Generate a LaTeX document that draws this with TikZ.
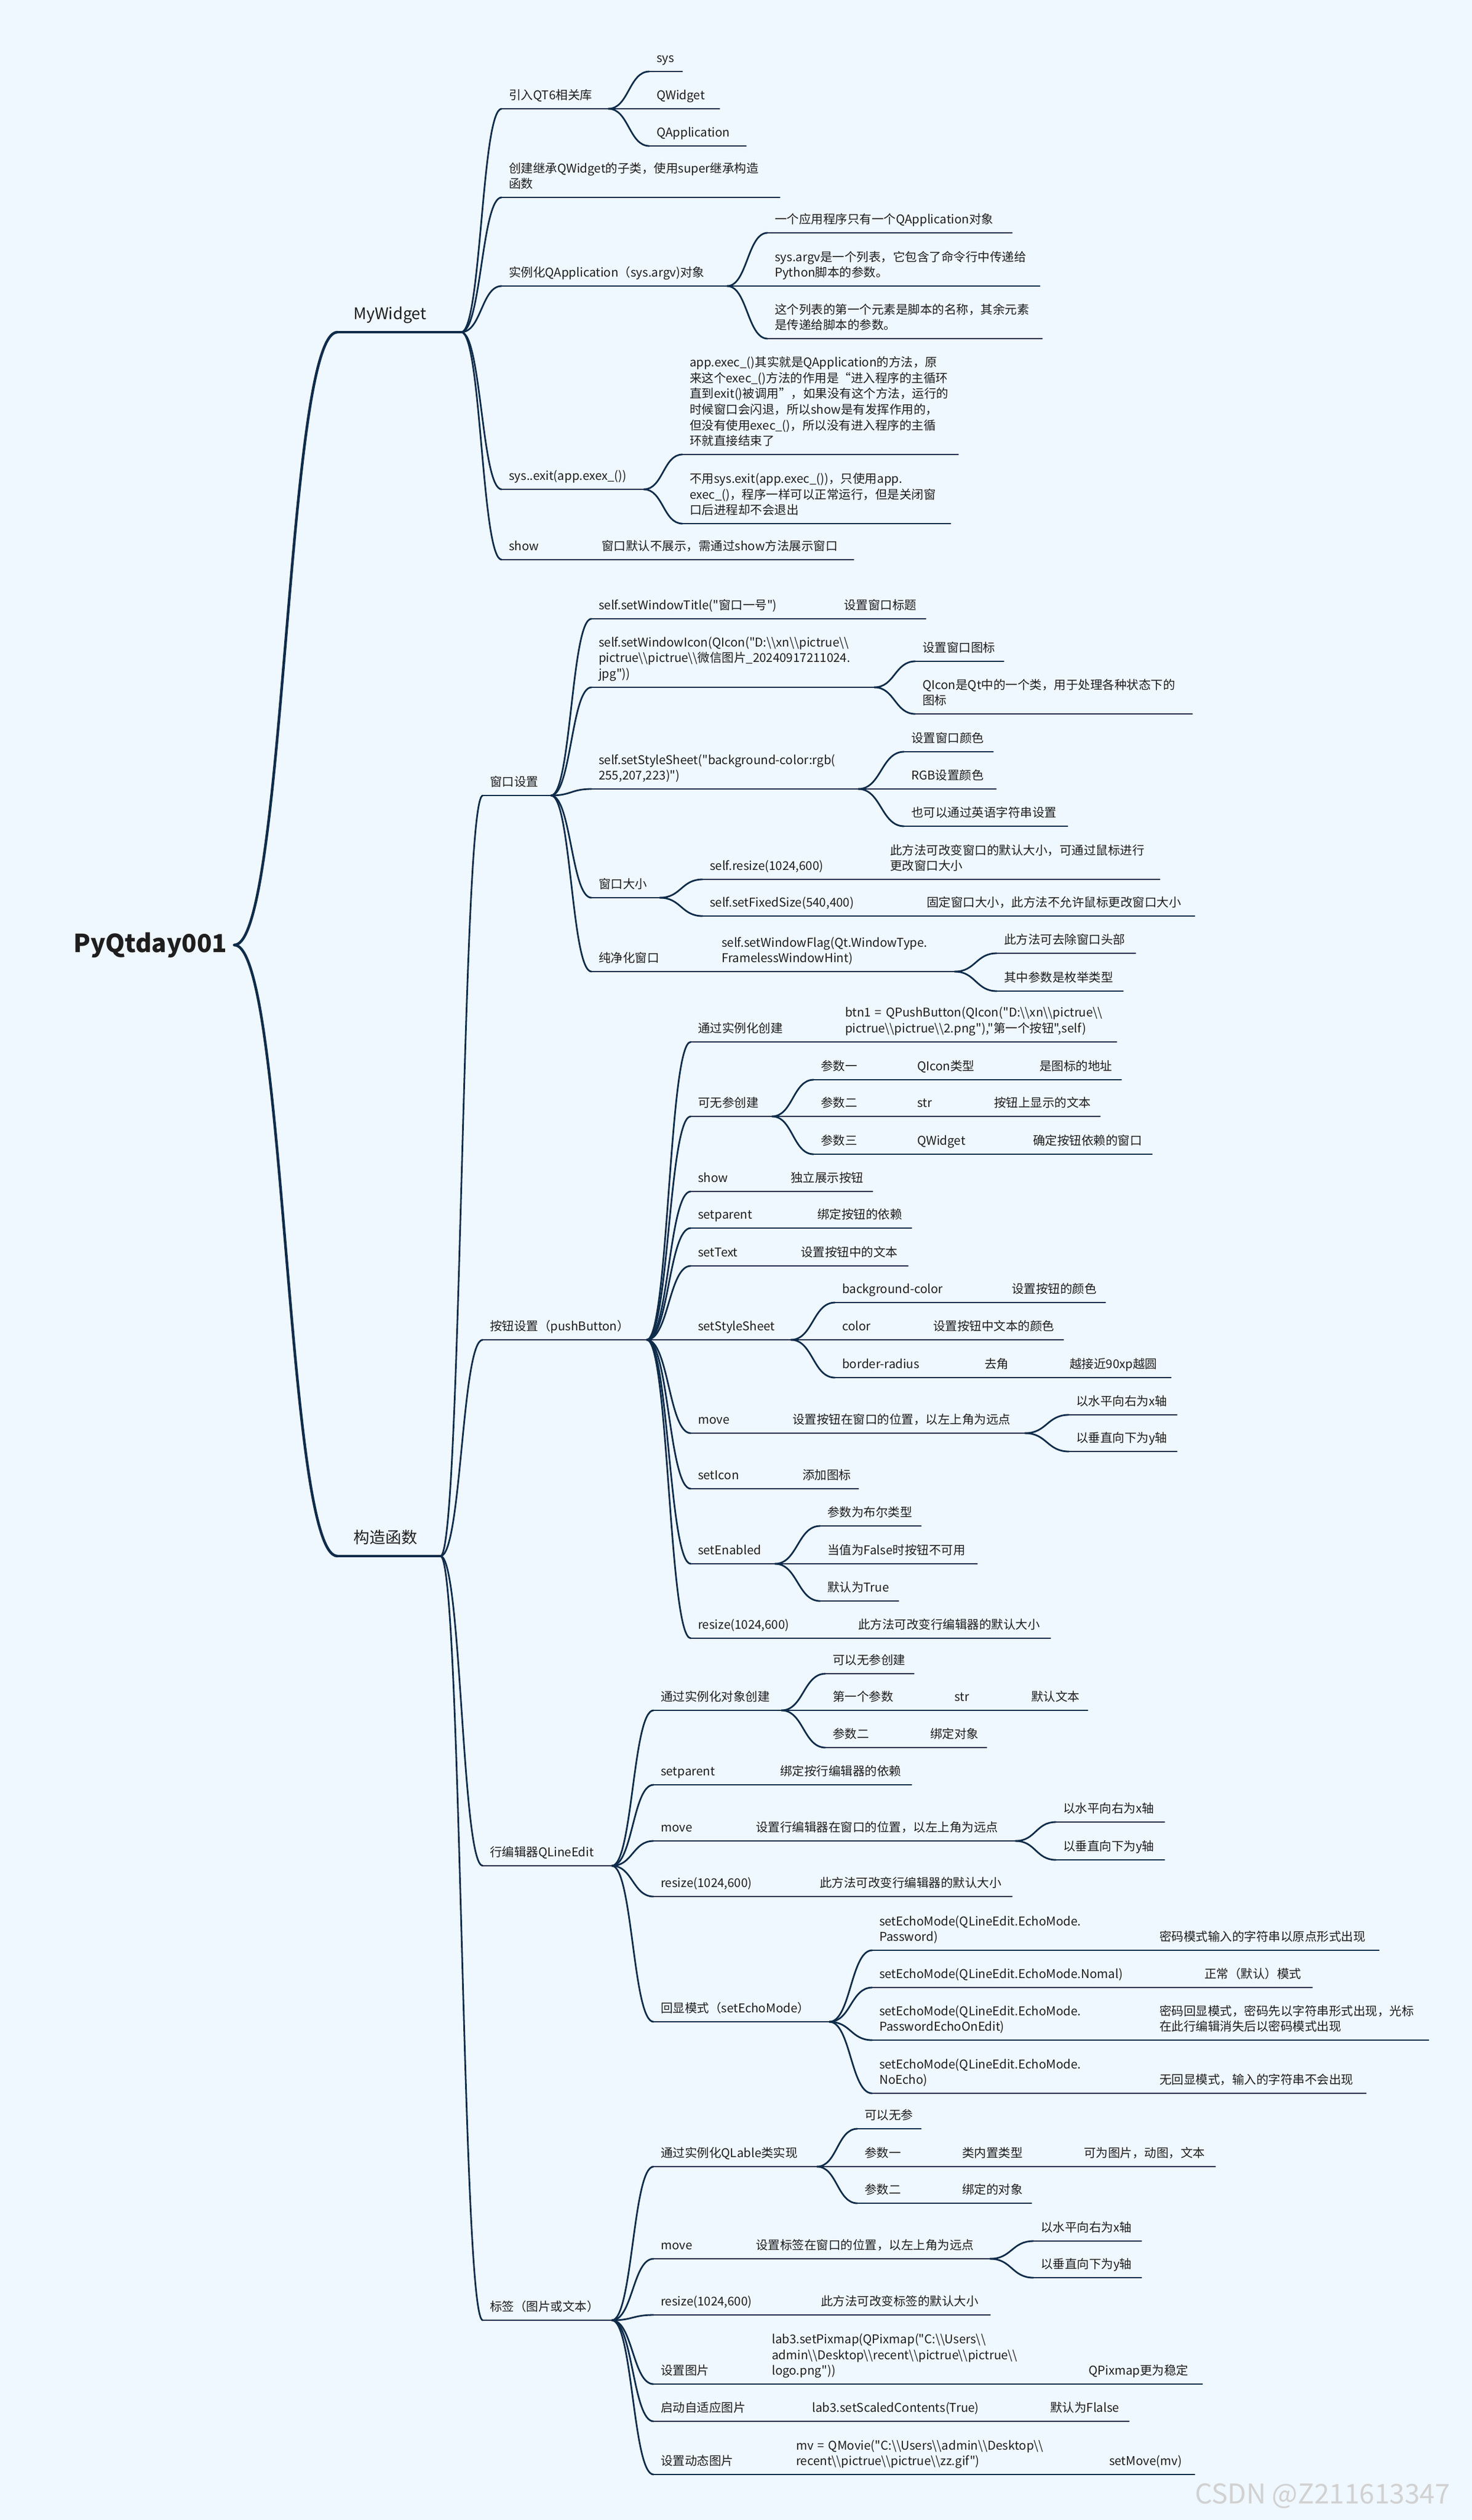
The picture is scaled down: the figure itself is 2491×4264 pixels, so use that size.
\documentclass[tikz,border=0pt]{standalone}
\usepackage{fontspec}
\setmainfont{Noto Sans CJK SC}
\newfontfamily\cjk{Noto Sans CJK SC}
\usetikzlibrary{calc}
\definecolor{bg}{RGB}{239,247,255}
\definecolor{lc}{RGB}{14,44,74}
\definecolor{tc}{RGB}{30,30,30}
\newcommand\bsl{\textbackslash}
\tikzset{
 ln/.style={draw=lc,line width=2.8pt,line cap=round},
 lnb/.style={draw=lc,line width=4.5pt,line cap=round},
 nd/.style={anchor=south west,inner xsep=12pt,inner ysep=10pt,align=left,text=tc,font=\cjk\fontsize{20.5}{26.7}\selectfont},
 big/.style={inner xsep=27pt,inner ysep=15pt,font=\cjk\fontsize{27}{32}\selectfont},
 rootst/.style={anchor=west,inner xsep=12pt,inner ysep=6pt,text=tc,font=\cjk\fontsize{42}{48}\selectfont\bfseries},
 wmst/.style={anchor=west,inner sep=0pt,text=black!18,font=\cjk\fontsize{46}{50}\selectfont},
}
\newcommand\N[5]{\pgfmathsetmacro\tw{#3-#2-24}\node[nd,text width=\tw pt] (#1) at (#2,#4) {#5\rule[-5pt]{0pt}{5pt}};\draw[ln] (#1.south west) -- (#1.south east);}
\newcommand\NL[5]{\pgfmathsetmacro\tw{#3-#2-54}\node[nd,big,text width=\tw pt] (#1) at (#2,#4) {#5\rule[-6pt]{0pt}{6pt}};\draw[lnb] (#1.south west) -- (#1.south east);}
\newcommand\C[2]{\draw[ln] let \p1=(#1.south east),\p2=(#2.south west) in (\p1) .. controls ({(\x1+\x2)/2},\y1) and ({(\x1+\x2)/2},\y2) .. (\p2);}
\newcommand\CC[2]{\foreach \q in {#2}{\C{#1}{\q}}}
\begin{document}
\begin{tikzpicture}[x=1pt,y=-1pt]
\fill[bg] (0,0) rectangle (2491,4264);
\useasboundingbox (0,0) rectangle (2491,4264);
% root and level 1
\node[rootst] (root) at (112,1599) {PyQtday001};
\NL{mw}{571}{780}{562}{MyWidget}
\NL{gz}{571}{745}{2633}{构造函数}
\draw[lnb] let \p1=(root.east),\p2=(mw.south west) in (\p1) .. controls ({(\x1+\x2)/2},\y1) and ({(\x1+\x2)/2},\y2) .. (\p2);
\draw[lnb] let \p1=(root.east),\p2=(gz.south west) in (\p1) .. controls ({(\x1+\x2)/2},\y1) and ({(\x1+\x2)/2},\y2) .. (\p2);
% MyWidget
\N{a1}{849}{1029}{184}{引入QT6相关库}
\N{a1a}{1099}{1154}{121}{sys}
\N{a1b}{1099}{1217}{184}{QWidget}
\N{a1c}{1099}{1262}{247}{QApplication}
\N{a2}{849}{1319}{334}{创建继承QWidget的子类，使用super继承构造\\函数}
\N{a3}{849}{1230}{484}{实例化QApplication（sys.argv)对象}
\N{a3a}{1299}{1712}{394}{一个应用程序只有一个QApplication对象}
\N{a3b}{1299}{1759}{484}{sys.argv是一个列表，它包含了命令行中传递给\\Python脚本的参数。}
\N{a3c}{1299}{1763}{573}{这个列表的第一个元素是脚本的名称，其余元素\\是传递给脚本的参数。}
\N{a4}{849}{1089}{828}{sys..exit(app.exex\_())}
\N{a4a}{1155}{1621}{769}{app.exec\_()其实就是QApplication的方法，原\\来这个exec\_()方法的作用是“进入程序的主循环\\直到exit()被调用”，如果没有这个方法，运行的\\时候窗口会闪退，所以show是有发挥作用的，\\但没有使用exec\_()，所以没有进入程序的主循\\环就直接结束了}
\N{a4b}{1155}{1608}{886}{不用sys.exit(app.exec\_())，只使用app.\\exec\_()，程序一样可以正常运行，但是关闭窗\\口后进程却不会退出}
\N{a5}{849}{932}{947}{show}
\N{a5a}{1006}{1444}{947}{窗口默认不展示，需通过show方法展示窗口}
\CC{mw}{a1,a2,a3,a4,a5}
\CC{a1}{a1a,a1b,a1c}
\CC{a3}{a3a,a3b,a3c}
\CC{a4}{a4a,a4b}
\C{a5}{a5a}
% level 2 under 构造函数
\N{b}{817}{932}{1346}{窗口设置}
\N{c}{817}{1094}{2267}{按钮设置（pushButton）}
\N{d}{817}{1035}{3157}{行编辑器QLineEdit}
\N{e}{817}{1035}{3926}{标签（图片或文本）}
\CC{gz}{b,c,d,e}
% 窗口设置
\N{b1}{1001}{1338}{1047}{self.setWindowTitle("窗口一号")}
\N{b1a}{1416}{1566}{1047}{设置窗口标题}
\N{b2}{1001}{1479}{1163}{self.setWindowIcon(QIcon("D:\bsl\bsl xn\bsl\bsl pictrue\bsl\bsl\\pictrue\bsl\bsl pictrue\bsl\bsl 微信图片\_20240917211024.\\jpg"))}
\N{b2a}{1549}{1698}{1119}{设置窗口图标}
\N{b2b}{1549}{2017}{1208}{QIcon是Qt中的一个类，用于处理各种状态下的\\图标}
\N{b3}{1001}{1452}{1335}{self.setStyleSheet("background-color:rgb(\\255,207,223)")}
\N{b3a}{1530}{1680}{1272}{设置窗口颜色}
\N{b3b}{1530}{1685}{1335}{RGB设置颜色}
\N{b3c}{1530}{1806}{1398}{也可以通过英语字符串设置}
\N{b4}{1001}{1116}{1519}{窗口大小}
\N{b4a}{1189}{1420}{1488}{self.resize(1024,600)}
\N{b4a1}{1494}{1962}{1488}{此方法可改变窗口的默认大小，可通过鼠标进行\\更改窗口大小}
\N{b4b}{1189}{1479}{1550}{self.setFixedSize(540,400)}
\N{b4b1}{1556}{2021}{1550}{固定窗口大小，此方法不允许鼠标更改窗口大小}
\N{b5}{1001}{1132}{1644}{纯净化窗口}
\N{b5a}{1209}{1615}{1644}{self.setWindowFlag(Qt.WindowType.\\FramelessWindowHint)}
\N{b5a1}{1687}{1921}{1613}{此方法可去除窗口头部}
\N{b5a2}{1687}{1900}{1677}{其中参数是枚举类型}
\CC{b}{b1,b2,b3,b4,b5}
\C{b1}{b1a}
\CC{b2}{b2a,b2b}
\CC{b3}{b3a,b3b,b3c}
\CC{b4}{b4a,b4b}
\C{b4a}{b4a1}
\C{b4b}{b4b1}
\C{b5}{b5a}
\CC{b5a}{b5a1,b5a2}
% 按钮设置
\N{c1}{1169}{1338}{1763}{通过实例化创建}
\N{c1a}{1418}{1889}{1763}{btn1~=~QPushButton(QIcon("D:\bsl\bsl xn\bsl\bsl pictrue\bsl\bsl\\pictrue\bsl\bsl pictrue\bsl\bsl 2.png"),"第一个按钮",self)}
\N{c2}{1169}{1306}{1889}{可无参创建}
\N{c2a}{1377}{1461}{1827}{参数一}
\N{c2a1}{1540}{1669}{1827}{QIcon类型}
\N{c2a2}{1747}{1897}{1827}{是图标的地址}
\N{c2b}{1377}{1461}{1889}{参数二}
\N{c2b1}{1540}{1591}{1889}{str}
\N{c2b2}{1670}{1861}{1889}{按钮上显示的文本}
\N{c2c}{1377}{1461}{1953}{参数三}
\N{c2c1}{1540}{1658}{1953}{QWidget}
\N{c2c2}{1736}{1949}{1953}{确定按钮依赖的窗口}
\N{c3}{1169}{1248}{2016}{show}
\N{c3a}{1326}{1476}{2016}{独立展示按钮}
\N{c4}{1169}{1293}{2078}{setparent}
\N{c4a}{1371}{1542}{2078}{绑定按钮的依赖}
\N{c5}{1169}{1265}{2142}{setText}
\N{c5a}{1343}{1536}{2142}{设置按钮中的文本}
\N{c6}{1169}{1338}{2267}{setStyleSheet}
\N{c6a}{1413}{1620}{2204}{background-color}
\N{c6a1}{1700}{1870}{2204}{设置按钮的颜色}
\N{c6b}{1413}{1487}{2267}{color}
\N{c6b1}{1567}{1799}{2267}{设置按钮中文本的颜色}
\N{c6c}{1413}{1575}{2331}{border-radius}
\N{c6c1}{1654}{1720}{2331}{去角}
\N{c6c2}{1798}{1981}{2331}{越接近90xp越圆}
\N{c7}{1169}{1252}{2425}{move}
\N{c7a}{1329}{1734}{2425}{设置按钮在窗口的位置，以左上角为远点}
\N{c7a1}{1809}{1991}{2394}{以水平向右为x轴}
\N{c7a2}{1809}{1991}{2456}{以垂直向下为y轴}
\N{c8}{1169}{1268}{2519}{setIcon}
\N{c8a}{1346}{1452}{2519}{添加图标}
\N{c9}{1169}{1311}{2646}{setEnabled}
\N{c9a}{1388}{1558}{2582}{参数为布尔类型}
\N{c9b}{1388}{1653}{2646}{当值为False时按钮不可用}
\N{c9c}{1388}{1520}{2709}{默认为True}
\N{c10}{1169}{1360}{2772}{resize(1024,600)}
\N{c10a}{1440}{1777}{2772}{此方法可改变行编辑器的默认大小}
\CC{c}{c1,c2,c3,c4,c5,c6,c7,c8,c9,c10}
\C{c1}{c1a}
\CC{c2}{c2a,c2b,c2c}
\C{c2a}{c2a1}\C{c2a1}{c2a2}
\C{c2b}{c2b1}\C{c2b1}{c2b2}
\C{c2c}{c2c1}\C{c2c1}{c2c2}
\C{c3}{c3a}
\C{c4}{c4a}
\C{c5}{c5a}
\CC{c6}{c6a,c6b,c6c}
\C{c6a}{c6a1}
\C{c6b}{c6b1}
\C{c6c}{c6c1}\C{c6c1}{c6c2}
\C{c7}{c7a}
\CC{c7a}{c7a1,c7a2}
\C{c8}{c8a}
\CC{c9}{c9a,c9b,c9c}
\C{c10}{c10a}
% 行编辑器
\N{d1}{1106}{1322}{2894}{通过实例化对象创建}
\N{d1a}{1397}{1546}{2832}{可以无参创建}
\N{d1b}{1397}{1524}{2894}{第一个参数}
\N{d1b1}{1603}{1655}{2894}{str}
\N{d1b2}{1733}{1840}{2894}{默认文本}
\N{d1c}{1397}{1490}{2957}{参数二}
\N{d1c1}{1562}{1669}{2957}{绑定对象}
\N{d2}{1106}{1230}{3020}{setparent}
\N{d2a}{1308}{1542}{3020}{绑定按行编辑器的依赖}
\N{d3}{1106}{1190}{3115}{move}
\N{d3a}{1267}{1718}{3115}{设置行编辑器在窗口的位置，以左上角为远点}
\N{d3a1}{1787}{1970}{3083}{以水平向右为x轴}
\N{d3a2}{1787}{1970}{3147}{以垂直向下为y轴}
\N{d4}{1106}{1300}{3209}{resize(1024,600)}
\N{d4a}{1375}{1712}{3209}{此方法可改变行编辑器的默认大小}
\N{d5}{1106}{1403}{3421}{回显模式（setEchoMode）}
\N{d5a}{1476}{1872}{3300}{setEchoMode(QLineEdit.EchoMode.\\Password)}
\N{d5a1}{1950}{2333}{3300}{密码模式输入的字符串以原点形式出现}
\N{d5b}{1476}{1952}{3363}{setEchoMode(QLineEdit.EchoMode.Nomal)}
\N{d5b1}{2026}{2220}{3363}{正常（默认）模式}
\N{d5c}{1476}{1872}{3452}{setEchoMode(QLineEdit.EchoMode.\\PasswordEchoOnEdit)}
\N{d5c1}{1950}{2417}{3452}{密码回显模式，密码先以字符串形式出现，光标\\在此行编辑消失后以密码模式出现}
\N{d5d}{1476}{1872}{3542}{setEchoMode(QLineEdit.EchoMode.\\NoEcho)}
\N{d5d1}{1950}{2311}{3542}{无回显模式，输入的字符串不会出现}
\CC{d}{d1,d2,d3,d4,d5}
\CC{d1}{d1a,d1b,d1c}
\C{d1b}{d1b1}\C{d1b1}{d1b2}
\C{d1c}{d1c1}
\C{d2}{d2a}
\C{d3}{d3a}
\CC{d3a}{d3a1,d3a2}
\C{d4}{d4a}
\CC{d5}{d5a,d5b,d5c,d5d}
\C{d5a}{d5a1}
\C{d5b}{d5b1}
\C{d5c}{d5c1}
\C{d5d}{d5d1}
% 标签
\N{e1}{1106}{1382}{3666}{通过实例化QLable类实现}
\N{e1a}{1451}{1558}{3602}{可以无参}
\N{e1b}{1451}{1540}{3666}{参数一}
\N{e1b1}{1616}{1755}{3666}{类内置类型}
\N{e1b2}{1822}{2056}{3666}{可为图片，动图，文本}
\N{e1c}{1451}{1540}{3728}{参数二}
\N{e1c1}{1616}{1745}{3728}{绑定的对象}
\N{e2}{1106}{1190}{3822}{move}
\N{e2a}{1267}{1675}{3822}{设置标签在窗口的位置，以左上角为远点}
\N{e2a1}{1749}{1931}{3792}{以水平向右为x轴}
\N{e2a2}{1749}{1931}{3854}{以垂直向下为y轴}
\N{e3}{1106}{1300}{3917}{resize(1024,600)}
\N{e3a}{1377}{1675}{3917}{此方法可改变标签的默认大小}
\N{e4}{1106}{1220}{4034}{设置图片}
\N{e4a}{1294}{1760}{4034}{lab3.setPixmap(QPixmap("C:\bsl\bsl Users\bsl\bsl\\admin\bsl\bsl Desktop\bsl\bsl recent\bsl\bsl pictrue\bsl\bsl pictrue\bsl\bsl\\logo.png"))}
\N{e4a1}{1830}{2034}{4034}{QPixmap更为稳定}
\N{e5}{1106}{1290}{4097}{启动自适应图片}
\N{e5a}{1362}{1700}{4097}{lab3.setScaledContents(True)}
\N{e5a1}{1765}{1910}{4097}{默认为Flalse}
\N{e6}{1106}{1260}{4187}{设置动态图片}
\N{e6a}{1335}{1800}{4187}{mv~=~QMovie("C:\bsl\bsl Users\bsl\bsl admin\bsl\bsl Desktop\bsl\bsl\\recent\bsl\bsl pictrue\bsl\bsl pictrue\bsl\bsl zz.gif")}
\N{e6a1}{1865}{2021}{4187}{setMove(mv)}
\CC{e}{e1,e2,e3,e4,e5,e6}
\CC{e1}{e1a,e1b,e1c}
\C{e1b}{e1b1}\C{e1b1}{e1b2}
\C{e1c}{e1c1}
\C{e2}{e2a}
\CC{e2a}{e2a1,e2a2}
\C{e3}{e3a}
\C{e4}{e4a}\C{e4a}{e4a1}
\C{e5}{e5a}\C{e5a}{e5a1}
\C{e6}{e6a}\C{e6a}{e6a1}
% watermark
\node[wmst] (wm) at (2022,4223) {CSDN @Z211613347};
\end{tikzpicture}
\end{document}
